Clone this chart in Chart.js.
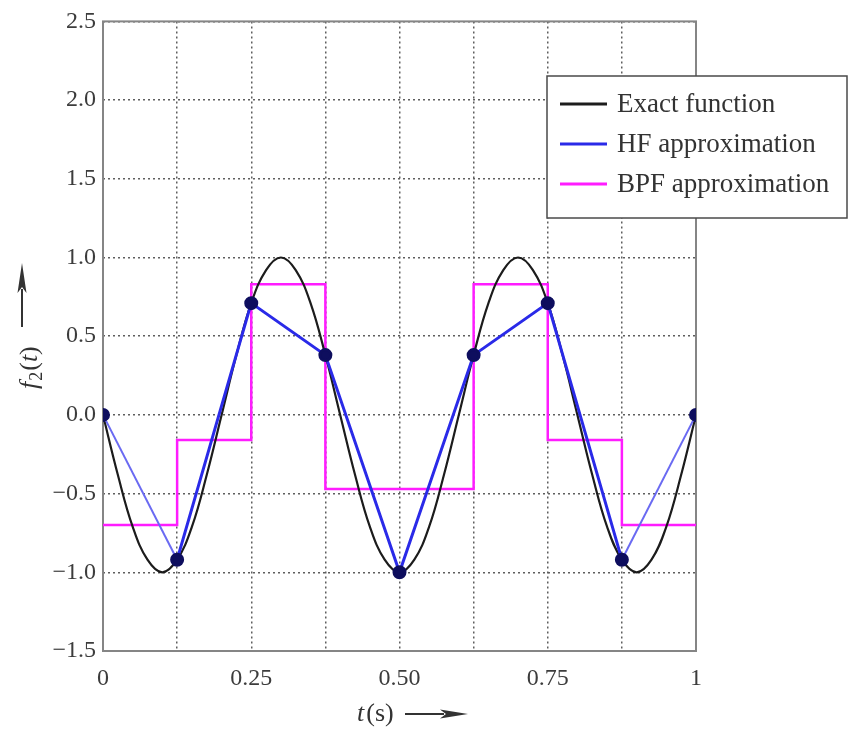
<!DOCTYPE html>
<html>
<head>
<meta charset="utf-8">
<script src="https://cdn.jsdelivr.net/npm/chart.js@4.4.0/dist/chart.umd.min.js"></script>
<style>
  html, body { margin: 0; padding: 0; background: #fff; }
  #wrap { width: 849px; height: 729px; }
</style>
</head>
<body>
<div id="wrap"><canvas id="f2Chart" width="849" height="729"></canvas></div>
<script>
// exact function samples
var exactT = [0, 0.025, 0.05, 0.075, 0.1, 0.125, 0.15, 0.175, 0.2, 0.225,
    0.25, 0.275, 0.3, 0.325, 0.35, 0.375, 0.4, 0.425, 0.45, 0.475,
    0.5, 0.525, 0.55, 0.575, 0.6, 0.625, 0.65, 0.675, 0.7, 0.725,
    0.75, 0.775, 0.8, 0.825, 0.85, 0.875, 0.9, 0.925, 0.95, 0.975, 1];
var exactVals = [0, -0.38, -0.71, -0.92, -1.0, -0.92, -0.71, -0.38, 0, 0.38,
    0.71, 0.92, 1.0, 0.92, 0.71, 0.38, 0, -0.38, -0.71, -0.92,
    -1.0, -0.92, -0.71, -0.38, 0, 0.38, 0.71, 0.92, 1.0, 0.92,
    0.71, 0.38, 0, -0.38, -0.71, -0.92, -1.0, -0.92, -0.71, -0.38, 0];

// HF nodes and BPF block values (block i holds bpfVals[i] from nodeT[i] to nodeT[i+1])
var nodeT = [0, 0.125, 0.25, 0.375, 0.5, 0.625, 0.75, 0.875, 1];
var hfVals = [0, -0.92, 0.71, 0.38, -1.0, 0.38, 0.71, -0.92, 0];
var bpfVals = [-0.70, -0.16, 0.83, -0.47, -0.47, 0.83, -0.16, -0.70, -0.70];

var xTickVals = [0, 0.25, 0.5, 0.75, 1];
var xTickLabels = ['0', '0.25', '0.50', '0.75', '1'];
var yTickVals = [-1.5, -1.0, -0.5, 0, 0.5, 1.0, 1.5, 2.0, 2.5];
var yTickLabels = ['\u22121.5', '\u22121.0', '\u22120.5', '0.0', '0.5', '1.0', '1.5', '2.0', '2.5'];

var seriesNames = ['Exact function', 'HF approximation', 'BPF approximation'];
var seriesColors = ['#1c1c1c', '#2a2ae8', '#ff1cff'];

var serif = "'Liberation Serif', 'DejaVu Serif', serif";

function pairs(xs, ys) {
    return xs.map(function (x, i) { return { x: x, y: ys[i] }; });
}

function labelFor(v, vals, labels) {
    for (var i = 0; i < vals.length; i++) {
        if (Math.abs(v - vals[i]) < 1e-6) return labels[i];
    }
    return '';
}

// frame round the plot area
var framePlugin = {
    id: 'frame',
    beforeDatasetsDraw: function (chart) {
        var a = chart.chartArea, ctx = chart.ctx;
        ctx.save();
        ctx.strokeStyle = '#858585';
        ctx.lineWidth = 2;
        ctx.strokeRect(a.left, a.top, a.right - a.left, a.bottom - a.top);
        ctx.restore();
    }
};

function arrow(ctx, x0, x1, headLen) {
    // horizontal arrow in current frame, tip at x1
    ctx.beginPath();
    ctx.moveTo(x0, 0);
    ctx.lineTo(x1 - headLen + 4, 0);
    ctx.lineWidth = 2;
    ctx.stroke();
    ctx.beginPath();
    ctx.moveTo(x1, 0);
    ctx.lineTo(x1 - headLen, -4.5);
    ctx.lineTo(x1 - headLen + 6, 0);
    ctx.lineTo(x1 - headLen, 4.5);
    ctx.closePath();
    ctx.fill();
}

// axis titles and legend box
var labelsPlugin = {
    id: 'labels',
    afterDraw: function (chart) {
        var ctx = chart.ctx;
        ctx.save();
        ctx.fillStyle = '#333';
        ctx.strokeStyle = '#333';
        ctx.textBaseline = 'middle';
        ctx.textAlign = 'left';

        // x title: t (s) -->
        ctx.save();
        ctx.translate(357, 714);
        ctx.font = 'italic 26px ' + serif;
        ctx.fillText('t', 0, 0);
        var w = ctx.measureText('t').width + 2;
        ctx.font = '26px ' + serif;
        ctx.fillText('(s)', w, 0);
        arrow(ctx, 48, 111, 28);
        ctx.restore();

        // y title: f2(t) -->, rotated
        ctx.save();
        ctx.translate(30, 389);
        ctx.rotate(-Math.PI / 2);
        var x = 0;
        ctx.font = 'italic 26px ' + serif;
        ctx.fillText('f', x, 0);
        x += ctx.measureText('f').width + 1;
        ctx.font = '18px ' + serif;
        ctx.fillText('2', x, 7);
        x += ctx.measureText('2').width + 1;
        ctx.font = '26px ' + serif;
        ctx.fillText('(', x, 0);
        x += ctx.measureText('(').width;
        ctx.font = 'italic 26px ' + serif;
        ctx.fillText('t', x, 0);
        x += ctx.measureText('t').width;
        ctx.font = '26px ' + serif;
        ctx.fillText(')', x, 0);
        ctx.translate(0, -8);
        arrow(ctx, 62, 126, 30);
        ctx.restore();

        // legend
        ctx.fillStyle = '#fff';
        ctx.fillRect(547, 76, 300, 142);
        ctx.strokeStyle = '#4a4a4a';
        ctx.lineWidth = 1.5;
        ctx.strokeRect(547, 76, 300, 142);
        var rowY = [104, 144, 184];
        ctx.font = '27px ' + serif;
        for (var i = 0; i < seriesNames.length; i++) {
            ctx.strokeStyle = seriesColors[i];
            ctx.lineWidth = 3;
            ctx.beginPath();
            ctx.moveTo(560, rowY[i]);
            ctx.lineTo(607, rowY[i]);
            ctx.stroke();
            ctx.fillStyle = '#333';
            ctx.fillText(seriesNames[i], 617, rowY[i] + 1);
        }
        ctx.restore();
    }
};

var ctx = document.getElementById('f2Chart').getContext('2d');
var f2Chart = new Chart(ctx, {
    type: 'line',
    data: {
        datasets: [{
            label: seriesNames[0],
            data: pairs(exactT, exactVals),
            borderColor: seriesColors[0],
            borderWidth: 2.2,
            pointRadius: 0,
            tension: 0.4,
            order: 2
        }, {
            label: seriesNames[1],
            data: pairs(nodeT, hfVals),
            borderColor: seriesColors[1],
            borderWidth: 3,
            pointRadius: 5.5,
            pointBackgroundColor: '#0e0e5e',
            pointBorderColor: '#0e0e5e',
            tension: 0,
            segment: {
                // outer segments look thinner and lighter in the original
                borderColor: function (c) {
                    return (c.p0DataIndex === 0 || c.p0DataIndex === nodeT.length - 2) ? '#6a6af2' : undefined;
                },
                borderWidth: function (c) {
                    return (c.p0DataIndex === 0 || c.p0DataIndex === nodeT.length - 2) ? 2 : undefined;
                }
            },
            order: 1
        }, {
            label: seriesNames[2],
            data: pairs(nodeT, bpfVals),
            borderColor: seriesColors[2],
            borderWidth: 2.5,
            pointRadius: 0,
            stepped: 'before',
            order: 3
        }]
    },
    options: {
        responsive: false,
        animation: false,
        devicePixelRatio: 1,
        layout: { padding: { top: 19, right: 153, bottom: 0, left: 0 } },
        plugins: {
            legend: { display: false },
            tooltip: { enabled: false }
        },
        scales: {
            x: {
                type: 'linear',
                min: 0,
                max: 1,
                afterBuildTicks: function (scale) {
                    scale.ticks = nodeT.map(function (v) { return { value: v }; });
                },
                afterFit: function (scale) { scale.height = 78; },
                grid: { color: '#5e5e5e', lineWidth: 1.5, drawTicks: false },
                border: { display: false, dash: [2, 3] },
                ticks: {
                    autoSkip: false,
                    maxRotation: 0,
                    padding: 13,
                    color: '#3c3c3c',
                    font: { family: serif, size: 24 },
                    callback: function (v) { return labelFor(v, xTickVals, xTickLabels); }
                }
            },
            y: {
                min: -1.5,
                max: 2.5,
                afterBuildTicks: function (scale) {
                    scale.ticks = yTickVals.map(function (v) { return { value: v }; });
                },
                afterFit: function (scale) { scale.width = 103; },
                grid: { color: '#5e5e5e', lineWidth: 1.5, drawTicks: false },
                border: { display: false, dash: [2, 3] },
                ticks: {
                    padding: 7,
                    color: '#3c3c3c',
                    font: { family: serif, size: 24 },
                    callback: function (v) { return labelFor(v, yTickVals, yTickLabels); }
                }
            }
        }
    },
    plugins: [framePlugin, labelsPlugin]
});
</script>
</body>
</html>
